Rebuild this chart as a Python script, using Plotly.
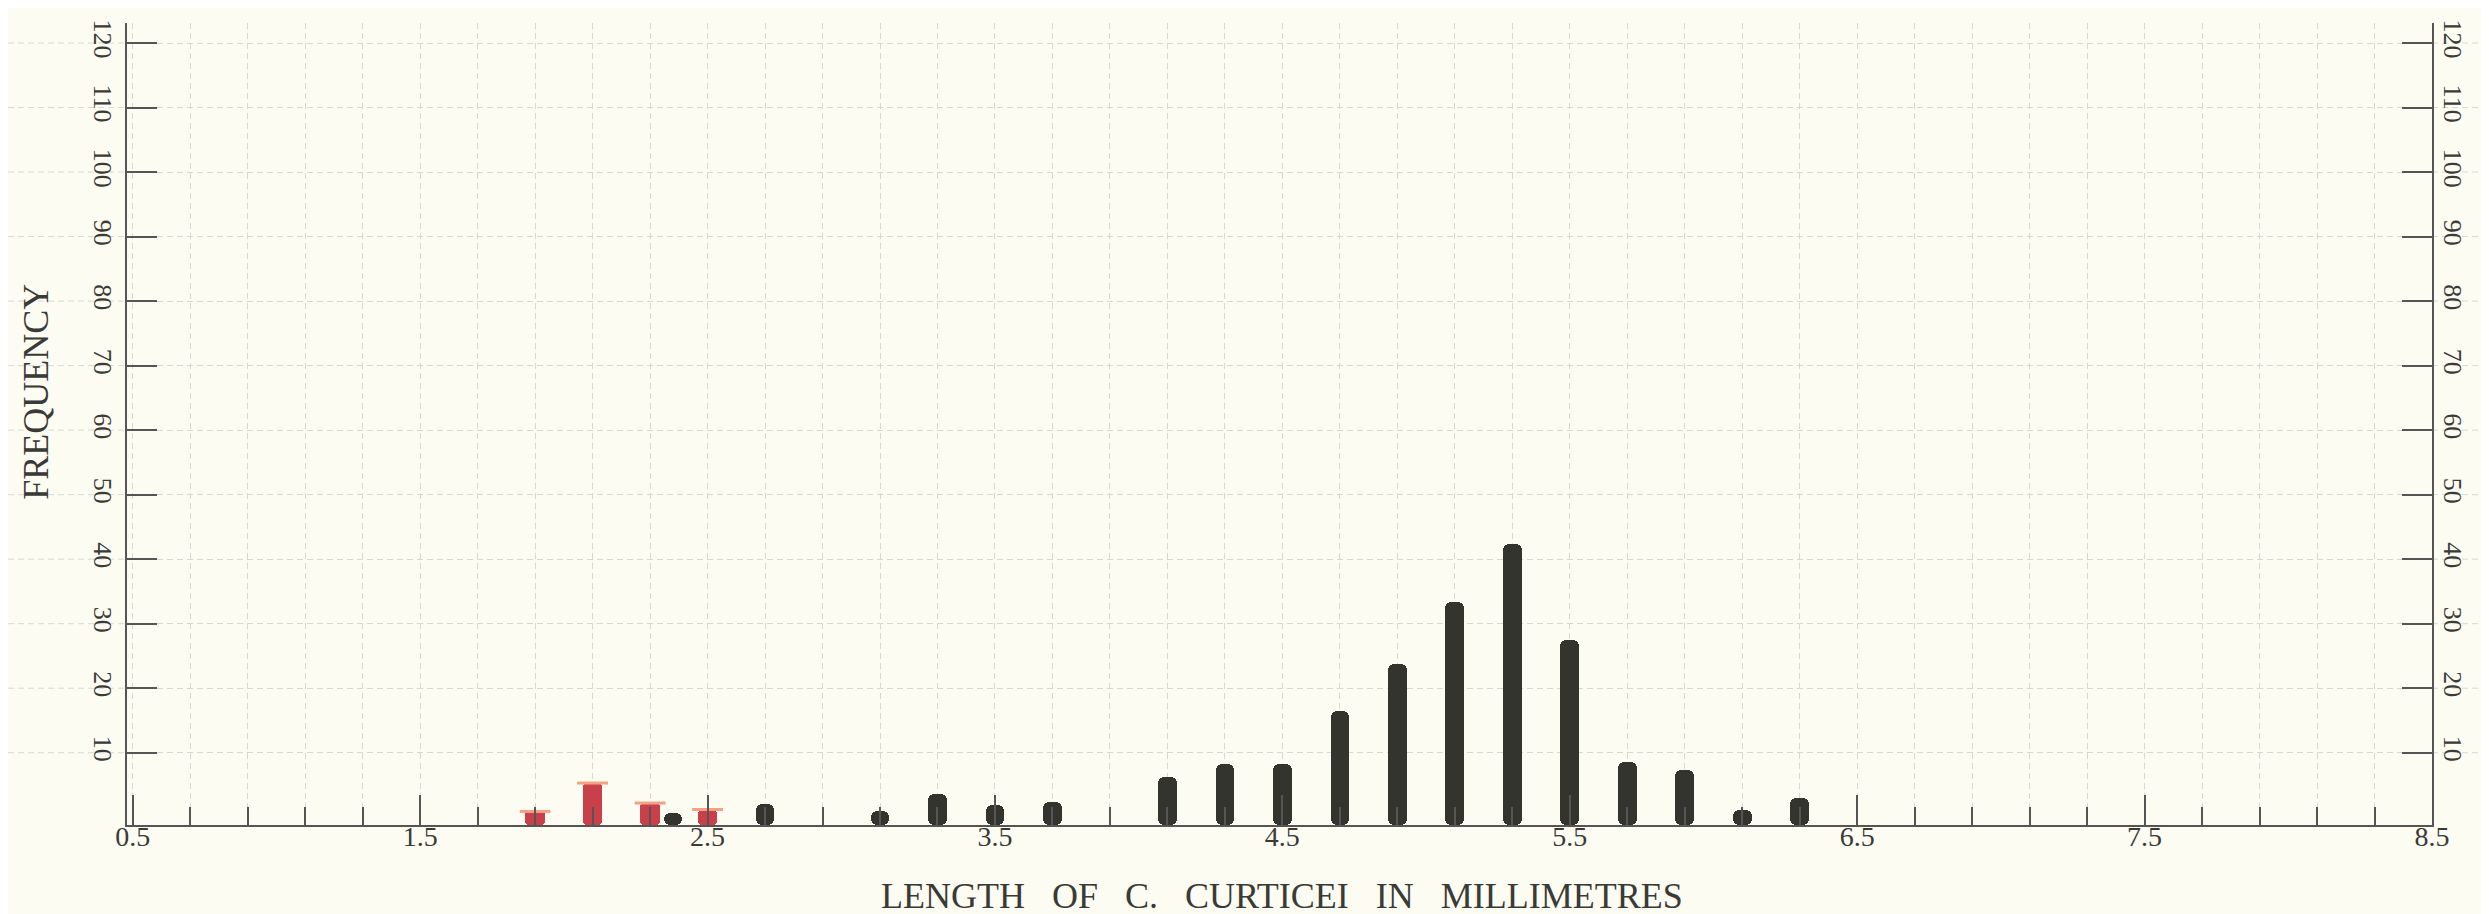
import plotly.graph_objects as go

# lengths (mm) and frequencies
red_len = [1.9, 2.1, 2.3, 2.5]
red_freq = [0.9, 5.3, 2.2, 1.2]

black_len = [2.38, 2.7, 3.1, 3.3, 3.5, 3.7, 4.1, 4.3, 4.5, 4.7, 4.9,
             5.1, 5.3, 5.5, 5.7, 5.9, 6.1, 6.3]
black_freq = [0.7, 2.1, 1.0, 3.6, 1.9, 2.4, 6.2, 8.3, 8.3, 16.4, 23.8,
              33.3, 42.3, 27.5, 8.5, 7.4, 1.2, 3.0]

x_ticks = [0.5, 1.5, 2.5, 3.5, 4.5, 5.5, 6.5, 7.5, 8.5]
y_ticks = [10, 20, 30, 40, 50, 60, 70, 80, 90, 100, 110, 120]

# the ruled baseline of the sheet sits a little under zero
y_floor = -1.2
y_top = 123.1

paper = '#fcfcf2'
ink = '#3a3a36'
grid = '#d8d8d2'
font = 'Liberation Serif'
sp = '&nbsp;' * 3

fig = go.Figure()
fig.add_trace(go.Bar(x=black_len, y=[f - y_floor for f in black_freq], base=y_floor,
                     width=0.065,
                     marker=dict(color='#34342f', cornerradius=6, line=dict(width=0)),
                     showlegend=False))
fig.add_trace(go.Bar(x=red_len, y=[f - y_floor for f in red_freq], base=y_floor,
                     width=0.068,
                     marker=dict(color='#c9404a', cornerradius=4, line=dict(width=0)),
                     showlegend=False))
# salmon ink caps on the red bars
fig.add_trace(go.Scatter(x=red_len, y=red_freq, mode='markers',
                         marker=dict(symbol='line-ew', size=22,
                                     line=dict(color='#f2a282', width=3)),
                         showlegend=False, hoverinfo='skip'))
# right-hand copy of the frequency scale
fig.add_trace(go.Scatter(x=[x_ticks[0]], y=[0], yaxis='y2', mode='markers',
                         marker=dict(size=0, opacity=0), showlegend=False,
                         hoverinfo='skip'))

# graph-paper lines carried past the frame
shapes = []
for v in y_ticks:
    for a, b in [(-0.0516, 0), (1, 1.03)]:
        shapes.append(dict(type='line', xref='paper', yref='y', x0=a, x1=b,
                           y0=v, y1=v, layer='below',
                           line=dict(color=grid, width=1, dash='6px,4px')))

yax = dict(range=[y_floor, y_top], tickvals=y_ticks,
           ticktext=[str(v) for v in y_ticks], tickangle=90,
           ticks='inside', ticklen=30, tickwidth=1.5, tickcolor='#555',
           showline=True, linecolor='#555', linewidth=2,
           zeroline=False, tickfont=dict(size=26), ticklabeloverflow='allow')

fig.update_layout(
    width=2489, height=914,
    paper_bgcolor=paper, plot_bgcolor=paper,
    margin=dict(l=119, r=65, t=13, b=97),
    barmode='overlay', bargap=0,
    font=dict(family=font, color=ink, size=26),
    shapes=shapes,
    xaxis=dict(range=[0.48, 8.5], tickvals=x_ticks,
               ticktext=[str(v) for v in x_ticks],
               ticks='inside', ticklen=30, tickwidth=1.5, tickcolor='#555',
               showline=True, linecolor='#555', linewidth=2,
               showgrid=True, gridcolor=grid, gridwidth=1, griddash='6px,4px',
               zeroline=False, tickfont=dict(size=28), ticklabelstandoff=-15,
               ticklabeloverflow='allow',
               minor=dict(tick0=0.5, dtick=0.2, ticks='inside', ticklen=18,
                          tickwidth=1.5, tickcolor='#555', showgrid=True,
                          gridcolor=grid, gridwidth=1, griddash='6px,4px')),
    yaxis=dict(yax, showgrid=True, gridcolor=grid, gridwidth=1, griddash='6px,4px'),
    yaxis2=dict(yax, overlaying='y', side='right', showgrid=False),
    annotations=[
        dict(text='FREQUENCY', xref='paper', yref='paper', x=-0.0395, y=0.54,
             xanchor='center', yanchor='middle',
             textangle=-90, showarrow=False, font=dict(size=36)),
        dict(text=sp.join(['LENGTH', 'OF', 'C.', 'CURTICEI', 'IN', 'MILLIMETRES']),
             xref='paper', yref='paper', x=0.501, y=-0.088, showarrow=False,
             xanchor='center', yanchor='middle', font=dict(size=36)),
    ],
)

fig.write_html("out.html")
